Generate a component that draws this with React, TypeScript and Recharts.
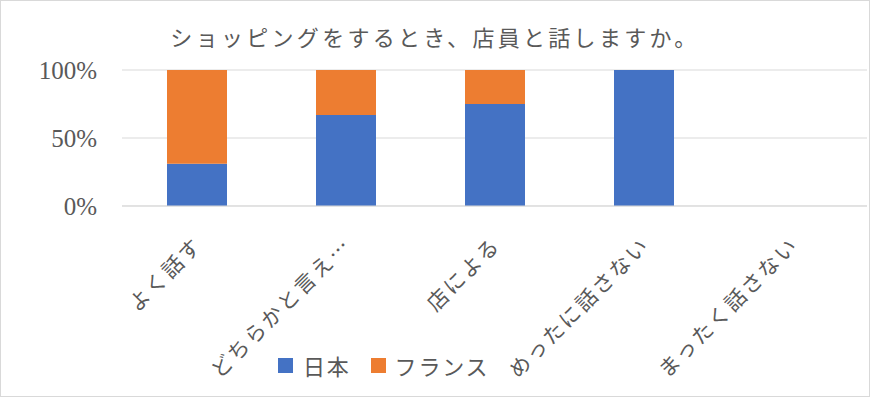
import { Bar, BarChart, CartesianGrid, XAxis, YAxis } from "recharts";

const categories = ["よく話す", "どちらかと言え…", "店による", "めったに話さない", "まったく話さない"];
const japan = [31, 67, 75, 100, 0];
const france = [69, 33, 25, 0, 0];
const yTicks = [0, 50, 100];

const seriesNames = { japan: "日本", france: "フランス" };
const colors = { japan: "#4472C4", france: "#ED7D31" };

const data = categories.map((label, i) => ({
  label,
  japan: japan[i],
  france: france[i],
}));

const jpFont = "'Noto Sans CJK JP', 'Noto Sans', sans-serif";
const textColor = "#595959";

function CategoryTick({ x, y, payload }: any) {
  return (
    <g transform={`translate(${x + 1},${y + 34})`}>
      <text
        textAnchor="end"
        dominantBaseline="central"
        transform="rotate(-45)"
        fill={textColor}
        fontSize={21}
        fontFamily={jpFont}
        letterSpacing={2.5}
      >
        {payload.value}
      </text>
    </g>
  );
}

export default function App() {
  return (
    <div style={{ position: "fixed", left: 0, top: 0, width: 870, height: 397, background: "#fff" }}>
      <div
        style={{
          position: "absolute",
          top: 22,
          left: 0,
          width: 870,
          textAlign: "center",
          fontFamily: jpFont,
          fontSize: 22,
          letterSpacing: 3.3,
          color: textColor,
          lineHeight: "28px",
        }}
      >
        ショッピングをするとき、店員と話しますか。
      </div>
      <div style={{ position: "absolute", left: 0, top: 0 }}>
        <BarChart width={870} height={397} data={data} margin={{ top: 70, right: 3, bottom: 0, left: 0 }}>
          <CartesianGrid stroke="#d9d9d9" vertical={false} />
          <XAxis
            dataKey="label"
            interval={0}
            height={191}
            axisLine={{ stroke: "#d9d9d9" }}
            tickLine={false}
            tickSize={0}
            tickMargin={0}
            tick={<CategoryTick />}
          />
          <YAxis
            width={122}
            domain={[0, 100]}
            ticks={yTicks}
            tickFormatter={(v) => `${v}%`}
            axisLine={false}
            tickLine={false}
            tickSize={0}
            tickMargin={25}
            tick={{ fill: textColor, fontSize: 25, fontFamily: "'Liberation Serif', serif" }}
          />
          <Bar dataKey="japan" name={seriesNames.japan} stackId="a" fill={colors.japan} barSize={60} isAnimationActive={false} />
          <Bar dataKey="france" name={seriesNames.france} stackId="a" fill={colors.france} barSize={60} isAnimationActive={false} />
        </BarChart>
      </div>
      <div
        style={{
          position: "absolute",
          top: 351,
          left: 278,
          display: "flex",
          alignItems: "center",
          fontFamily: jpFont,
          fontSize: 22,
          letterSpacing: 1.8,
          color: textColor,
          lineHeight: "28px",
        }}
      >
        <span style={{ width: 15, height: 15, background: colors.japan, display: "inline-block", marginRight: 10 }} />
        <span style={{ marginRight: 20 }}>{seriesNames.japan}</span>
        <span style={{ width: 15, height: 15, background: colors.france, display: "inline-block", marginRight: 9 }} />
        <span>{seriesNames.france}</span>
      </div>
      <div
        style={{
          position: "absolute",
          inset: 0,
          border: "1px solid #d9d9d9",
          pointerEvents: "none",
        }}
      />
    </div>
  );
}
